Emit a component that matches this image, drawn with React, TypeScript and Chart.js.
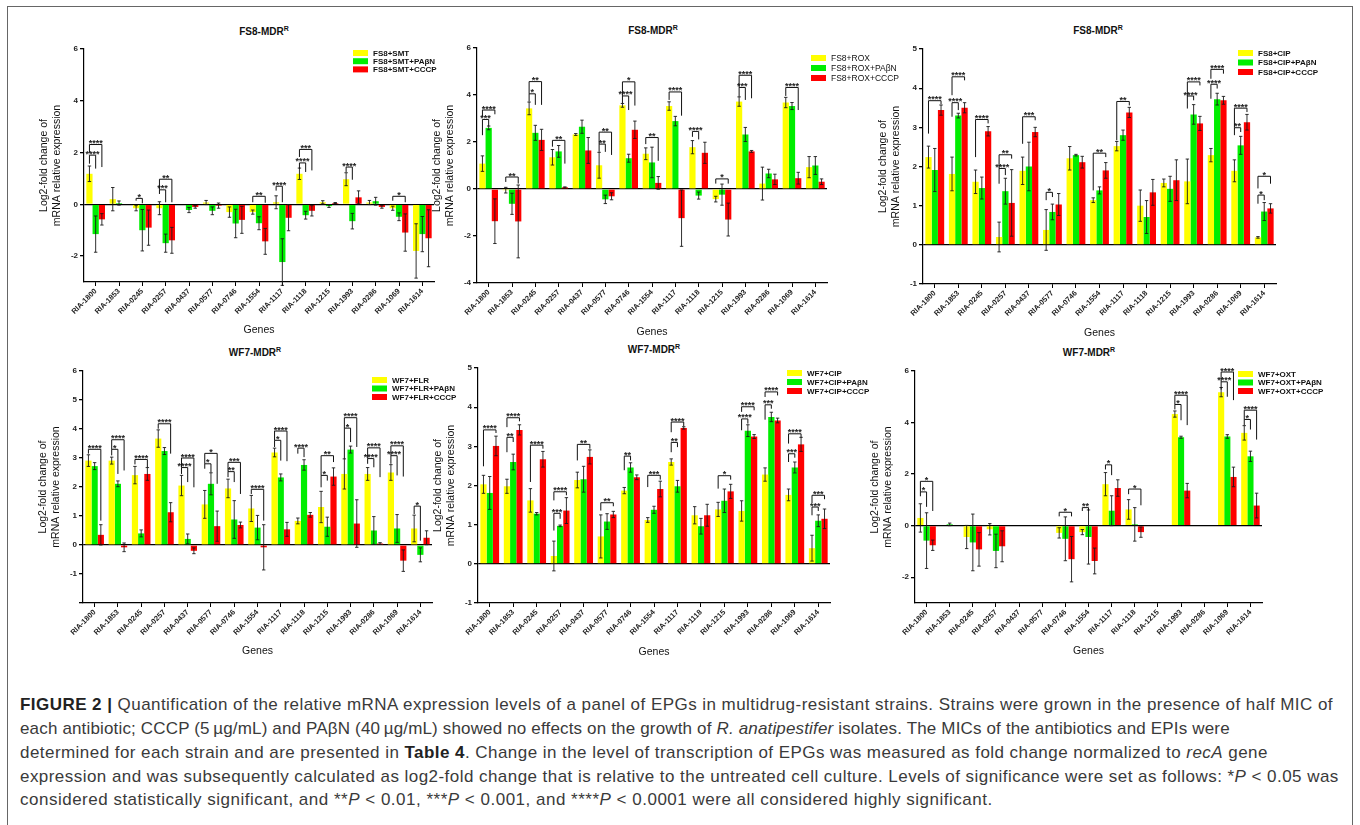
import React, { useEffect, useRef } from 'react';
import { Chart, registerables } from 'chart.js';

Chart.register(...registerables);

const FONT = '"Liberation Sans", Arial, Helvetica, sans-serif';

const GENES = ['RIA-1800', 'RIA-1853', 'RIA-0245', 'RIA-0257', 'RIA-0437', 'RIA-0577', 'RIA-0746', 'RIA-1554', 'RIA-1117', 'RIA-1118', 'RIA-1215', 'RIA-1993', 'RIA-0286', 'RIA-1069', 'RIA-1614'];
const Y_TITLE = ['Log2-fold change of', 'mRNA relative expression'];
const X_TITLE = 'Genes';

// bracket: [gene index, from series, to series, line value, left leg end, right leg end, label]
type Bracket = [number, number, number, number, number, number, string];

// ---- Panel 1: FS8-MDR + SMT ----
const SMT_LABELS = ['FS8+SMT', 'FS8+SMT+PAβN', 'FS8+SMT+CCCP'];
const SMT_Y = [1.18, 0.2, -0.15, -0.15, 0, 0.07, -0.3, -0.3, 0.08, 1.18, 0.08, 0.97, 0.07, -0.15, -1.8];
const SMT_YE = [0.3, 0.45, 0.1, 0.25, 0, 0.08, 0.2, 0.08, 0.25, 0.22, 0.06, 0.25, 0.08, 0.08, 1.05];
const SMT_G = [-1.15, 0.05, -1.0, -1.5, -0.22, -0.25, -0.74, -0.73, -2.23, -0.42, -0.07, -0.65, 0.12, -0.48, -1.15];
const SMT_GE = [0.7, 0.08, 0.8, 0.35, 0.1, 0.15, 0.55, 0.25, 0.9, 0.15, 0.05, 0.3, 0.15, 0.15, 0.68];
const SMT_R = [-0.58, 0, -0.9, -1.39, -0.1, -0.05, -0.6, -1.43, -0.52, -0.25, 0.05, 0.27, -0.1, -1.09, -1.31];
const SMT_RE = [0.22, 0, 0.68, 0.5, 0.05, 0.1, 0.52, 0.5, 0.5, 0.2, 0.02, 0.25, 0.05, 0.72, 1.1];
const SMT_BR: Bracket[] = [
  [0, 0, 1, 1.9, 1.57, 1.38, '****'], [0, 0, 2, 2.31, 2.0, 1.44, '****'],
  [2, 0, 1, 0.23, 0.14, 0.04, '*'],
  [3, 0, 1, 0.56, 0.4, 0.08, '***'], [3, 0, 2, 0.97, 0.56, 0.08, '**'],
  [7, 0, 2, 0.31, 0.08, 0.06, '**'],
  [8, 0, 1, 0.7, 0.53, 0.08, '****'],
  [9, 0, 1, 1.6, 1.38, 1.25, '****'], [9, 0, 2, 2.12, 1.83, 1.31, '***'],
  [11, 0, 1, 1.44, 1.25, 0.95, '****'],
  [13, 0, 2, 0.31, 0.14, 0.08, '*'],
];

// ---- Panel 2: FS8-MDR + ROX ----
const ROX_LABELS = ['FS8+ROX', 'FS8+ROX+PAβN', 'FS8+ROX+CCCP'];
const ROX_Y = [1.08, -0.05, 3.43, 1.35, 2.32, 1.01, 3.56, 1.5, 3.53, 1.78, -0.43, 3.72, 0.23, 3.68, 0.93];
const ROX_YE = [0.33, 0.12, 0.27, 0.33, 0.04, 0.55, 0.08, 0.25, 0.18, 0.28, 0.12, 0.2, 0.7, 0.22, 0.45];
const ROX_G = [2.6, -0.63, 2.39, 1.6, 2.65, -0.44, 1.31, 1.13, 2.89, -0.28, -0.24, 2.32, 0.66, 3.53, 1.0];
const ROX_GE = [0.08, 0.45, 0.32, 0.25, 0.28, 0.18, 0.17, 0.65, 0.2, 0.15, 0.45, 0.3, 0.18, 0.15, 0.38];
const ROX_R = [-1.37, -1.38, 2.09, 0.07, 1.64, -0.31, 2.52, 0.26, -1.24, 1.54, -1.3, 1.6, 0.41, 0.46, 0.31];
const ROX_RE = [0.95, 1.55, 0.45, 0.02, 0.55, 0.15, 0.37, 0.27, 1.2, 0.45, 0.7, 0.04, 0.22, 0.25, 0.12];
const ROX_BR: Bracket[] = [
  [0, 0, 1, 2.96, 2.29, 2.68, '***'], [0, 0, 2, 3.36, 3.08, 3.18, '****'],
  [1, 0, 2, 0.51, 0.3, 0.23, '**'],
  [2, 0, 1, 4.05, 3.72, 3.58, '*'], [2, 0, 2, 4.57, 4.05, 3.58, '**'],
  [3, 0, 2, 2.07, 1.8, 1.08, '**'],
  [5, 0, 1, 1.91, 1.58, 1.58, '**'], [5, 0, 2, 2.42, 1.91, 1.45, '**'],
  [6, 0, 1, 3.96, 3.65, 3.36, '****'], [6, 0, 2, 4.56, 3.96, 3.55, '*'],
  [7, 0, 2, 2.19, 1.91, 1.2, '**'],
  [8, 0, 2, 4.13, 3.79, 3.12, '****'],
  [9, 0, 1, 2.45, 2.22, 2.11, '****'],
  [10, 0, 2, 0.43, 0.23, 0.23, '*'],
  [11, 0, 1, 4.32, 3.93, 3.79, '***'], [11, 0, 2, 4.84, 4.32, 3.86, '****'],
  [13, 0, 2, 4.32, 3.96, 3.36, '****'],
];

// ---- Panel 3: FS8-MDR + CIP ----
const FCIP_LABELS = ['FS8+CIP', 'FS8+CIP+PAβN', 'FS8+CIP+CCCP'];
const FCIP_Y = [2.24, 1.81, 1.61, 0.2, 1.89, 0.38, 2.21, 1.14, 2.52, 1.0, 1.58, 1.62, 2.29, 1.89, 0.19];
const FCIP_YE = [0.28, 0.43, 0.3, 0.38, 0.35, 0.52, 0.3, 0.06, 0.12, 0.4, 0.1, 0.57, 0.17, 0.28, 0.02];
const FCIP_G = [1.91, 3.3, 1.45, 1.37, 2.0, 0.84, 2.29, 1.39, 2.8, 0.71, 1.43, 3.33, 3.72, 2.54, 0.85];
const FCIP_GE = [0.55, 0.06, 0.28, 0.33, 0.62, 0.2, 0.02, 0.09, 0.13, 0.42, 0.32, 0.25, 0.15, 0.23, 0.23];
const FCIP_R = [3.44, 3.5, 2.9, 1.07, 2.88, 1.03, 2.11, 1.9, 3.38, 1.34, 1.65, 3.1, 3.69, 3.13, 0.93];
const FCIP_RE = [0.13, 0.13, 0.12, 0.85, 0.12, 0.28, 0.15, 0.2, 0.13, 0.33, 0.52, 0.18, 0.1, 0.2, 0.12];
const FCIP_BR: Bracket[] = [
  [0, 0, 2, 3.68, 2.84, 3.59, '****'],
  [1, 0, 1, 3.63, 3.27, 3.44, '****'], [1, 0, 2, 4.29, 3.82, 4.2, '****'],
  [2, 0, 2, 3.2, 2.24, 3.1, '****'],
  [3, 0, 1, 1.95, 1.56, 1.78, '****'], [3, 0, 2, 2.3, 1.95, 2.2, '**'],
  [4, 0, 2, 3.27, 2.58, 3.18, '***'],
  [5, 0, 1, 1.34, 1.14, 1.22, '*'],
  [7, 0, 2, 2.34, 1.39, 2.24, '**'],
  [8, 0, 2, 3.66, 2.67, 3.56, '**'],
  [11, 0, 1, 3.8, 3.48, 3.69, '****'], [11, 0, 2, 4.16, 3.8, 4.07, '****'],
  [12, 0, 1, 4.1, 3.73, 3.99, '****'], [12, 0, 2, 4.48, 4.24, 4.37, '****'],
  [13, 0, 1, 2.99, 2.8, 2.88, '**'], [13, 0, 2, 3.49, 2.99, 3.39, '****'],
  [14, 0, 1, 1.27, 1.05, 1.14, '*'], [14, 0, 2, 1.75, 1.44, 1.56, '*'],
];

// ---- Panel 4: WF7-MDR + FLR ----
const FLR_LABELS = ['WF7+FLR', 'WF7+FLR+PAβN', 'WF7+FLR+CCCP'];
const FLR_Y = [2.91, 2.91, 2.41, 3.67, 2.05, 1.4, 1.95, 1.26, 3.19, 0.83, 1.31, 2.45, 2.45, 2.5, 0.57];
const FLR_YE = [0.2, 0.12, 0.3, 0.3, 0.35, 0.48, 0.32, 0.45, 0.15, 0.1, 0.54, 0.52, 0.22, 0.27, 0.46];
const FLR_G = [2.72, 2.11, 0.4, 3.24, 0.21, 2.11, 0.88, 0.6, 2.33, 2.76, 0.63, 3.29, 0.5, 0.57, -0.34];
const FLR_GE = [0.12, 0.1, 0.12, 0.12, 0.17, 0.38, 0.65, 0.42, 0.12, 0.18, 0.33, 0.12, 0.48, 0.48, 0.24];
const FLR_R = [0.35, -0.08, 2.45, 1.13, -0.2, 0.65, 0.69, -0.08, 0.54, 1.04, 2.36, 0.74, 0.05, -0.54, 0.25];
const FLR_RE = [0.35, 0.15, 0.22, 0.33, 0.1, 0.52, 0.1, 0.78, 0.24, 0.08, 0.3, 0.82, 0.03, 0.37, 0.24];
const FLR_BR: Bracket[] = [
  [0, 0, 2, 3.3, 3.15, 0.84, '****'],
  [1, 0, 1, 3.3, 3.09, 2.45, '*'], [1, 0, 2, 3.63, 3.3, 2.57, '****'],
  [2, 0, 2, 2.95, 2.78, 2.68, '****'],
  [3, 0, 2, 4.18, 4.01, 3.15, '****'],
  [4, 0, 1, 2.67, 2.45, 2.17, '****'], [4, 0, 2, 3.0, 2.67, 1.99, '****'],
  [5, 0, 1, 2.8, 2.63, 2.51, '*'], [5, 0, 2, 3.16, 2.8, 2.11, '*'],
  [6, 0, 1, 2.53, 2.34, 2.17, '**'], [6, 0, 2, 2.85, 2.53, 1.76, '***'],
  [7, 0, 2, 1.92, 1.76, 0.84, '****'],
  [8, 0, 1, 3.61, 3.38, 2.91, '*'], [8, 0, 2, 3.93, 3.61, 2.89, '****'],
  [9, 0, 1, 3.34, 3.15, 3.03, '****'],
  [10, 0, 1, 2.4, 1.99, 2.22, '*'], [10, 0, 2, 3.08, 2.4, 2.86, '**'],
  [11, 0, 1, 4.03, 2.97, 3.55, '*'], [11, 0, 2, 4.39, 4.03, 3.38, '****'],
  [12, 0, 1, 2.98, 2.8, 2.68, '****'], [12, 0, 2, 3.35, 2.98, 2.34, '****'],
  [13, 0, 1, 3.08, 2.8, 2.4, '****'], [13, 0, 2, 3.42, 3.08, 2.36, '****'],
  [14, 0, 1, 1.34, 1.07, 0.15, '*'],
];

// ---- Panel 5: WF7-MDR + CIP ----
const WCIP_LABELS = ['WF7+CIP', 'WF7+CIP+PAβN', 'WF7+CIP+CCCP'];
const WCIP_Y = [2.03, 1.98, 1.62, 0.2, 2.14, 0.7, 1.87, 1.12, 2.6, 1.24, 1.39, 1.35, 2.28, 1.76, 0.4];
const WCIP_YE = [0.23, 0.18, 0.3, 0.38, 0.2, 0.55, 0.08, 0.06, 0.08, 0.22, 0.18, 0.26, 0.17, 0.15, 0.33];
const WCIP_G = [1.81, 2.6, 1.28, 0.97, 2.16, 1.08, 2.46, 1.38, 1.98, 0.96, 1.61, 3.4, 3.75, 2.46, 1.1];
const WCIP_GE = [0.42, 0.2, 0.03, 0.02, 0.33, 0.2, 0.12, 0.09, 0.15, 0.2, 0.3, 0.15, 0.12, 0.14, 0.15];
const WCIP_R = [3.01, 3.42, 2.67, 1.36, 2.73, 1.26, 2.21, 1.91, 3.47, 1.24, 1.85, 3.25, 3.66, 3.05, 1.15];
const WCIP_RE = [0.25, 0.13, 0.2, 0.33, 0.18, 0.08, 0.06, 0.2, 0.03, 0.28, 0.18, 0.05, 0.06, 0.18, 0.25];
const WCIP_BR: Bracket[] = [
  [0, 0, 2, 3.42, 2.49, 3.34, '****'],
  [1, 0, 1, 3.23, 2.85, 3.11, '**'], [1, 0, 2, 3.73, 3.49, 3.64, '****'],
  [2, 0, 2, 3.03, 2.09, 2.94, '****'],
  [3, 0, 1, 1.29, 0.85, 1.15, '***'], [3, 0, 2, 1.84, 1.62, 1.75, '****'],
  [4, 0, 2, 3.05, 2.64, 2.94, '**'],
  [5, 0, 2, 1.56, 1.36, 1.47, '**'],
  [6, 0, 1, 2.75, 2.39, 2.64, '**'],
  [7, 0, 2, 2.26, 1.96, 2.15, '***'],
  [8, 0, 1, 3.1, 2.85, 2.98, '**'], [8, 0, 2, 3.62, 3.36, 3.51, '****'],
  [10, 0, 2, 2.25, 1.92, 2.15, '*'],
  [11, 0, 1, 3.7, 3.41, 3.58, '****'], [11, 0, 2, 4.01, 3.88, 3.92, '****'],
  [12, 0, 1, 4.06, 3.68, 3.96, '***'], [12, 0, 2, 4.39, 4.26, 4.3, '****'],
  [13, 0, 1, 2.81, 2.6, 2.71, '***'], [13, 0, 2, 3.32, 3.07, 3.22, '****'],
  [14, 0, 1, 1.45, 1.24, 1.35, '***'], [14, 0, 2, 1.75, 1.55, 1.65, '***'],
];

// ---- Panel 6: WF7-MDR + OXT ----
const OXT_LABELS = ['WF7+OXT', 'WF7+OXT+PAβN', 'WF7+OXT+CCCP'];
const OXT_Y = [0.3, 0, -0.44, -0.14, 0, 0, -0.28, -0.25, 1.61, 0.63, 0, 4.33, 0, 5.18, 3.6];
const OXT_YE = [0.55, 0, 0.45, 0.22, 0, 0, 0.2, 0.1, 0.45, 0.38, 0, 0.12, 0, 0.18, 0.28];
const OXT_G = [-0.58, 0.05, -0.65, -0.98, 0, 0, -0.51, -0.44, 0.58, 0.05, 0, 3.43, 0, 3.46, 2.69];
const OXT_GE = [1.08, 0.05, 1.1, 0.65, 0, 0, 0.85, 1.05, 0.58, 0.65, 0, 0.04, 0, 0.07, 0.2];
const OXT_R = [-0.76, 0, -0.92, -0.8, 0, 0, -1.3, -1.37, 1.46, -0.25, 0, 1.36, 0, 1.89, 0.78];
const OXT_RE = [0.2, 0, 0.65, 0.6, 0, 0, 0.88, 0.5, 0.32, 0.2, 0, 0.28, 0, 0.38, 0.48];
const OXT_BR: Bracket[] = [
  [0, 0, 1, 1.31, 1.14, 0.73, '*'], [0, 0, 2, 1.72, 1.31, 0.57, '*'],
  [6, 0, 2, 0.52, 0.36, 0.36, '*'],
  [7, 0, 1, 0.7, 0.57, 0.57, '**'],
  [8, 0, 1, 2.36, 2.18, 1.96, '*'],
  [9, 0, 2, 1.42, 1.22, 0.79, '*'],
  [11, 0, 1, 4.7, 4.51, 4.09, '*'], [11, 0, 2, 5.06, 4.7, 3.9, '****'],
  [13, 0, 1, 5.58, 5.28, 5.0, '****'], [13, 0, 2, 5.96, 5.58, 4.87, '****'],
  [14, 0, 1, 4.12, 3.9, 3.73, '*'], [14, 0, 2, 4.48, 4.12, 3.34, '****'],
];

const COLORS = ['#FFFF00', '#00EE00', '#FF0000'];

const PANELS = [
  { strain: 'FS8-MDR', labels: SMT_LABELS, vals: [SMT_Y, SMT_G, SMT_R], errs: [SMT_YE, SMT_GE, SMT_RE], br: SMT_BR, min: -3, max: 6, step: 2, hide: [] as number[] },
  { strain: 'FS8-MDR', labels: ROX_LABELS, vals: [ROX_Y, ROX_G, ROX_R], errs: [ROX_YE, ROX_GE, ROX_RE], br: ROX_BR, min: -4, max: 6, step: 2, hide: [] as number[] },
  { strain: 'FS8-MDR', labels: FCIP_LABELS, vals: [FCIP_Y, FCIP_G, FCIP_R], errs: [FCIP_YE, FCIP_GE, FCIP_RE], br: FCIP_BR, min: -1, max: 5, step: 1, hide: [] as number[] },
  { strain: 'WF7-MDR', labels: FLR_LABELS, vals: [FLR_Y, FLR_G, FLR_R], errs: [FLR_YE, FLR_GE, FLR_RE], br: FLR_BR, min: -2, max: 6, step: 1, hide: [-2] },
  { strain: 'WF7-MDR', labels: WCIP_LABELS, vals: [WCIP_Y, WCIP_G, WCIP_R], errs: [WCIP_YE, WCIP_GE, WCIP_RE], br: WCIP_BR, min: -1, max: 5, step: 1, hide: [] as number[] },
  { strain: 'WF7-MDR', labels: OXT_LABELS, vals: [OXT_Y, OXT_G, OXT_R], errs: [OXT_YE, OXT_GE, OXT_RE], br: OXT_BR, min: -3, max: 6, step: 2, hide: [] as number[] },
];

// page layout (pixels): plot area [left, right, top, bottom], "Genes" centre y, title centre, legend
const LAYOUT = [
  { area: [84, 434, 49, 282], genesY: 330, title: [264, 32], legend: { x: 353, y: 53, dy: 8.2, size: 8, bold: true } },
  { area: [477, 827, 48, 283], genesY: 332, title: [653, 31], legend: { x: 811, y: 58, dy: 10, size: 8.5, bold: false } },
  { area: [923, 1276, 49, 284], genesY: 333, title: [1098, 31], legend: { x: 1238, y: 53, dy: 9.5, size: 8, bold: true } },
  { area: [83, 432, 371, 603], genesY: 651, title: [255, 353], legend: { x: 372, y: 380, dy: 8.5, size: 8, bold: true } },
  { area: [478, 830, 368, 603], genesY: 652, title: [654, 350], legend: { x: 787, y: 373, dy: 9, size: 8, bold: true } },
  { area: [915, 1262, 371, 603], genesY: 651, title: [1089, 353], legend: { x: 1238, y: 374, dy: 8.5, size: 8, bold: true } },
];

const Y_W = 50;
const PAD_T = 10;
const PAD_R = 80;
const X_LH = 10.5 * 1.2;

function geom(i: number) {
  const L = LAYOUT[i];
  const left = L.area[0] - Y_W;
  const top = L.area[2] - PAD_T;
  const width = Math.round(L.area[1] + PAD_R - left);
  const height = Math.round(L.genesY + X_LH / 2 - top);
  return { left, top, width, height, xH: height - (L.area[3] - top) };
}

const decorPlugin = {
  id: 'decor',
  afterDatasetsDraw(chart: any, _args: any, opts: any) {
    const ctx: CanvasRenderingContext2D = chart.ctx;
    const ys = chart.scales.y;
    ctx.save();
    // error bars
    ctx.strokeStyle = '#1a1a1a';
    ctx.lineWidth = 0.9;
    (opts.errs as number[][]).forEach((errs, s) => {
      const meta = chart.getDatasetMeta(s);
      const vals = chart.data.datasets[s].data as number[];
      errs.forEach((e, i) => {
        if (!e) return;
        const x = meta.data[i].x;
        const y1 = ys.getPixelForValue(vals[i] + e);
        const y2 = ys.getPixelForValue(vals[i] - e);
        ctx.beginPath();
        ctx.moveTo(x, y1); ctx.lineTo(x, y2);
        ctx.moveTo(x - 1.7, y1); ctx.lineTo(x + 1.7, y1);
        ctx.moveTo(x - 1.7, y2); ctx.lineTo(x + 1.7, y2);
        ctx.stroke();
      });
    });
    // significance brackets
    ctx.strokeStyle = '#111';
    ctx.lineWidth = 1;
    ctx.fillStyle = '#222';
    ctx.font = `bold 9px ${FONT}`;
    ctx.textAlign = 'center';
    ctx.textBaseline = 'alphabetic';
    (opts.br as Bracket[]).forEach(([c, s1, s2, top, l, r, label]) => {
      const x1 = chart.getDatasetMeta(s1).data[c].x;
      const x2 = chart.getDatasetMeta(s2).data[c].x;
      const yt = ys.getPixelForValue(top);
      ctx.beginPath();
      ctx.moveTo(x1, ys.getPixelForValue(l));
      ctx.lineTo(x1, yt);
      ctx.lineTo(x2, yt);
      ctx.lineTo(x2, ys.getPixelForValue(r));
      ctx.stroke();
      ctx.fillText(label, (x1 + x2) / 2, yt + 1.5);
    });
    // legend
    const lg = opts.legend;
    ctx.textAlign = 'left';
    ctx.textBaseline = 'middle';
    ctx.font = `${lg.bold ? 'bold ' : ''}${lg.size}px ${FONT}`;
    chart.data.datasets.forEach((ds: any, k: number) => {
      const yy = lg.y + k * lg.dy;
      ctx.fillStyle = ds.backgroundColor;
      ctx.fillRect(lg.x, yy - 3, 15, 6);
      ctx.fillStyle = '#111';
      ctx.fillText(ds.label, lg.x + 20, yy + 0.5);
    });
    ctx.restore();
  },
};

function Panel({ index }: { index: number }) {
  const ref = useRef<HTMLCanvasElement | null>(null);
  const g = geom(index);
  useEffect(() => {
    const P = PANELS[index];
    const L = LAYOUT[index];
    const canvas = ref.current!;
    const chart = new Chart(canvas, {
      type: 'bar',
      data: {
        labels: GENES,
        datasets: P.labels.map((lab, s) => ({
          label: lab,
          data: P.vals[s],
          backgroundColor: COLORS[s],
          borderWidth: 0,
          categoryPercentage: 0.8,
          barPercentage: 1,
        })),
      },
      options: {
        animation: false,
        responsive: false,
        maintainAspectRatio: false,
        devicePixelRatio: 1,
        layout: { padding: { left: 0, top: PAD_T, right: PAD_R, bottom: 0 } },
        plugins: {
          legend: { display: false },
          title: { display: false },
          tooltip: { enabled: false },
          decor: {
            errs: P.errs,
            br: P.br,
            legend: { ...L.legend, x: L.legend.x - g.left, y: L.legend.y - g.top },
          },
        } as any,
        scales: {
          x: {
            type: 'category',
            offset: true,
            grid: { display: true, offset: false, drawOnChartArea: false, tickLength: 4, color: '#000', lineWidth: 1 },
            border: { display: true, color: '#000', width: 1.2 },
            ticks: { autoSkip: false, minRotation: 45, maxRotation: 45, padding: 1, color: '#222', font: { family: FONT, size: 7.5, weight: 'bold' } },
            title: { display: true, text: X_TITLE, color: '#111', font: { family: FONT, size: 10.5 }, padding: { top: 0, bottom: 0 } },
            afterFit: (s: any) => { s.height = g.xH; },
          },
          y: {
            type: 'linear',
            min: P.min,
            max: P.max,
            grid: {
              color: (c: any) => (c.tick && c.tick.value === 0 ? '#000' : 'rgba(0,0,0,0)'),
              tickColor: '#000',
              lineWidth: 1.3,
              tickLength: 4,
            },
            border: { display: true, color: '#000', width: 1.2 },
            ticks: {
              stepSize: P.step,
              includeBounds: false,
              padding: 2,
              color: '#222',
              font: { family: FONT, size: 8, weight: 'bold' },
              callback: (v: any) => (P.hide.includes(Number(v)) ? '' : String(v)),
            },
            title: { display: true, text: Y_TITLE, color: '#111', font: { family: FONT, size: 10.5, lineHeight: 1.25 }, padding: { top: 3.5, bottom: 0 } },
            afterFit: (s: any) => { s.width = Y_W; },
          },
        },
      } as any,
      plugins: [decorPlugin as any],
    });
    return () => chart.destroy();
  }, [index]);
  return (
    <canvas
      ref={ref}
      width={g.width}
      height={g.height}
      style={{ position: 'absolute', left: g.left, top: g.top, width: g.width, height: g.height }}
    />
  );
}

const CAPTION_LINES_Y = [705, 729, 753, 777, 800];
const CAPTION_SPACING = [0.45, 0.16, 0.45, 0.45, 0.5];

export default function App() {
  const capStyle: React.CSSProperties = {
    position: 'absolute', left: 20, whiteSpace: 'nowrap', fontFamily: FONT, fontSize: 17,
    lineHeight: '20px', color: '#3a3a3a',
  };
  const lines: React.ReactNode[] = [
    <><b style={{ color: '#222' }}>FIGURE 2 |</b> Quantification of the relative mRNA expression levels of a panel of EPGs in multidrug-resistant strains. Strains were grown in the presence of half MIC of</>,
    <>each antibiotic; CCCP (5{'\u2009'}µg/mL) and PAβN (40{'\u2009'}µg/mL) showed no effects on the growth of <i>R. anatipestifer</i> isolates. The MICs of the antibiotics and EPIs were</>,
    <>determined for each strain and are presented in <b style={{ color: '#222' }}>Table 4</b>. Change in the level of transcription of EPGs was measured as fold change normalized to <i>recA</i> gene</>,
    <>expression and was subsequently calculated as log2-fold change that is relative to the untreated cell culture. Levels of significance were set as follows: *<i>P</i> &lt; 0.05 was</>,
    <>considered statistically significant, and **<i>P</i> &lt; 0.01, ***<i>P</i> &lt; 0.001, and ****<i>P</i> &lt; 0.0001 were all considered highly significant.</>,
  ];
  return (
    <div style={{ position: 'absolute', left: 0, top: 0, width: 1360, height: 825, background: '#fff', overflow: 'hidden' }}>
      <div style={{ position: 'absolute', left: 7, top: 6, width: 1346, height: 840, border: '1.5px solid #666', boxSizing: 'border-box' }} />
      {PANELS.map((P, i) => (
        <div
          key={'t' + i}
          style={{
            position: 'absolute', left: LAYOUT[i].title[0], top: LAYOUT[i].title[1], transform: 'translate(-50%, -50%)',
            fontFamily: FONT, fontWeight: 'bold', fontSize: 10, lineHeight: 1, color: '#111', whiteSpace: 'nowrap',
          }}
        >
          {P.strain}<sup style={{ fontSize: 7, lineHeight: 0, verticalAlign: 'super' }}>R</sup>
        </div>
      ))}
      {PANELS.map((_, i) => <Panel key={i} index={i} />)}
      {lines.map((ln, k) => (
        <div key={'c' + k} style={{ ...capStyle, top: CAPTION_LINES_Y[k] - 10, letterSpacing: `${CAPTION_SPACING[k]}px` }}>{ln}</div>
      ))}
    </div>
  );
}
